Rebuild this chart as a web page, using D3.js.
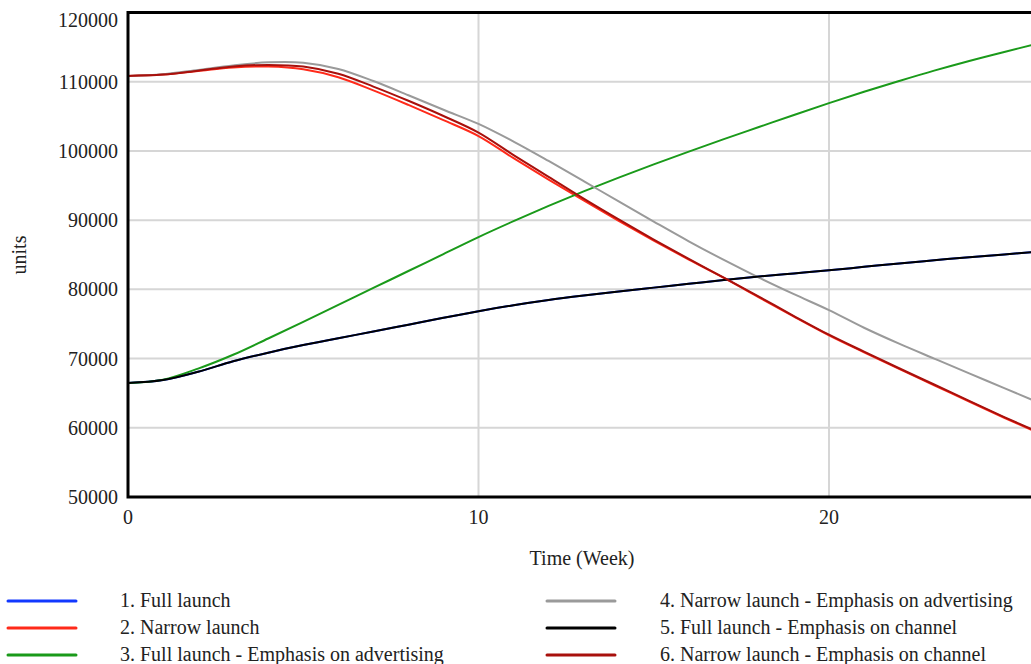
<!DOCTYPE html>
<html>
<head>
    <script src="https://d3js.org/d3.v7.min.js"></script>
    <style>
        body { margin: 0; background: #fff; }
        text { font-family: "Liberation Serif", "DejaVu Serif", serif; fill: #222; }
    </style>
</head>
<body>
<script>
    // weeks 0..26
    var weeks = d3.range(0, 27);

    var fullLaunch = [66480, 66900, 68100, 69600, 70850, 71950, 72950, 73900, 74900, 75900,
        76850, 77700, 78450, 79100, 79700, 80250, 80800, 81350, 81850, 82300,
        82750, 83250, 83750, 84200, 84650, 85050, 85450];
    var narrowLaunch = [110840, 111030, 111550, 112050, 112190, 111810, 110650, 108750, 106650, 104450,
        102150, 98950, 95850, 92850, 89900, 87050, 84300, 81650, 78850, 76050,
        73350, 70900, 68500, 66150, 63800, 61450, 59200];
    var fullAdvertising = [66480, 66950, 68550, 70550, 72900, 75300, 77750, 80200, 82650, 85100,
        87550, 89850, 92050, 94150, 96150, 98050, 99900, 101700, 103450, 105200,
        106900, 108550, 110100, 111600, 113000, 114300, 115550];
    var narrowAdvertising = [110840, 111080, 111700, 112350, 112800, 112750, 111850, 110100, 108050, 105950,
        103900, 101350, 98550, 95650, 92700, 89800, 86950, 84250, 81700, 79300,
        77000, 74450, 72150, 70000, 67860, 65740, 63600];
    var fullChannel = [66480, 66900, 68100, 69600, 70850, 71950, 72950, 73900, 74900, 75900,
        76850, 77700, 78450, 79100, 79700, 80250, 80800, 81350, 81850, 82300,
        82750, 83250, 83750, 84200, 84650, 85050, 85450];
    var narrowChannel = [110840, 111030, 111600, 112200, 112430, 112200, 111150, 109300, 107250, 105050,
        102650, 99400, 96250, 93100, 90100, 87200, 84400, 81700, 78950, 76150,
        73450, 71000, 68600, 66250, 63900, 61550, 59300];

    var seriesNames = ["1. Full launch", "2. Narrow launch", "3. Full launch - Emphasis on advertising",
        "4. Narrow launch - Emphasis on advertising", "5. Full launch - Emphasis on channel",
        "6. Narrow launch - Emphasis on channel"];
    var seriesValues = [fullLaunch, narrowLaunch, fullAdvertising, narrowAdvertising, fullChannel, narrowChannel];
    var seriesColors = ["#1238ff", "#ff2a1a", "#1a9a1a", "#9a9a9a", "#000000", "#a8100c"];

    var yTicks = [50000, 60000, 70000, 80000, 90000, 100000, 110000, 120000];
    var xTicks = [0, 10, 20];

    var W = 1031, H = 664;
    var svg = d3.select("body").append("svg")
        .attr("width", W)
        .attr("height", H);

    var plotLeft = 128, plotTop = 12.5, plotBottom = 497;
    var x = d3.scaleLinear().domain([0, 30]).range([plotLeft, plotLeft + 30 * 35.05]);
    var y = d3.scaleLinear().domain([50000, 120000]).range([plotBottom, plotTop]);

    svg.append("clipPath").attr("id", "plot")
        .append("rect")
        .attr("x", plotLeft).attr("y", plotTop)
        .attr("width", x(30) - plotLeft).attr("height", plotBottom - plotTop);

    // grid
    var grid = svg.append("g");
    grid.selectAll(".hg")
        .data(yTicks.slice(1, -1))
        .enter().append("line")
        .attr("x1", plotLeft).attr("x2", x(30))
        .attr("y1", d => y(d)).attr("y2", d => y(d))
        .attr("stroke", "#d6d6d6").attr("stroke-width", 2);
    grid.selectAll(".vg")
        .data(xTicks.slice(1))
        .enter().append("line")
        .attr("x1", d => x(d)).attr("x2", d => x(d))
        .attr("y1", plotTop).attr("y2", plotBottom)
        .attr("stroke", "#d6d6d6").attr("stroke-width", 2);

    // lines
    var line = d3.line()
        .x(function(d, i) { return x(weeks[i]); })
        .y(function(d) { return y(d); })
        .curve(d3.curveCatmullRom);

    svg.append("g")
        .attr("clip-path", "url(#plot)")
        .selectAll("path")
        .data(seriesValues)
        .enter().append("path")
        .attr("d", line)
        .attr("fill", "none")
        .attr("stroke", (d, i) => seriesColors[i])
        .attr("stroke-width", 2);

    // frame
    svg.append("path")
        .attr("d", "M" + x(30) + "," + plotTop + "H" + plotLeft + "V" + plotBottom + "H" + x(30))
        .attr("fill", "none")
        .attr("stroke", "#000")
        .attr("stroke-width", 3);

    // y tick labels
    svg.append("g").selectAll("text")
        .data(yTicks)
        .enter().append("text")
        .attr("x", 118)
        .attr("y", d => Math.max(y(d), 20))
        .attr("dy", "0.35em")
        .attr("text-anchor", "end")
        .style("font-size", "20px")
        .text(d => d);

    // x tick labels
    svg.append("g").selectAll("text")
        .data(xTicks)
        .enter().append("text")
        .attr("x", d => x(d))
        .attr("y", 524)
        .attr("text-anchor", "middle")
        .style("font-size", "20px")
        .text(d => d);

    svg.append("text")
        .attr("transform", "translate(26,255) rotate(-90)")
        .attr("text-anchor", "middle")
        .style("font-size", "20px")
        .text("units");

    svg.append("text")
        .attr("x", 582)
        .attr("y", 565)
        .attr("text-anchor", "middle")
        .style("font-size", "20px")
        .text("Time (Week)");

    // legend
    var legend = svg.append("g").selectAll("g")
        .data(seriesNames)
        .enter().append("g")
        .attr("transform", function(d, i) {
            var col = Math.floor(i / 3), row = i % 3;
            return "translate(" + (col === 0 ? 8 : 547) + "," + (601 + row * 27) + ")";
        });
    legend.append("line")
        .attr("x1", 0).attr("x2", 68)
        .attr("stroke", (d, i) => seriesColors[i])
        .attr("stroke-width", 3)
        .attr("stroke-linecap", "round");
    legend.append("text")
        .attr("x", (d, i) => i < 3 ? 112 : 113)
        .attr("dy", "0.3em")
        .style("font-size", "20px")
        .text(d => d);
</script>
</body>
</html>
